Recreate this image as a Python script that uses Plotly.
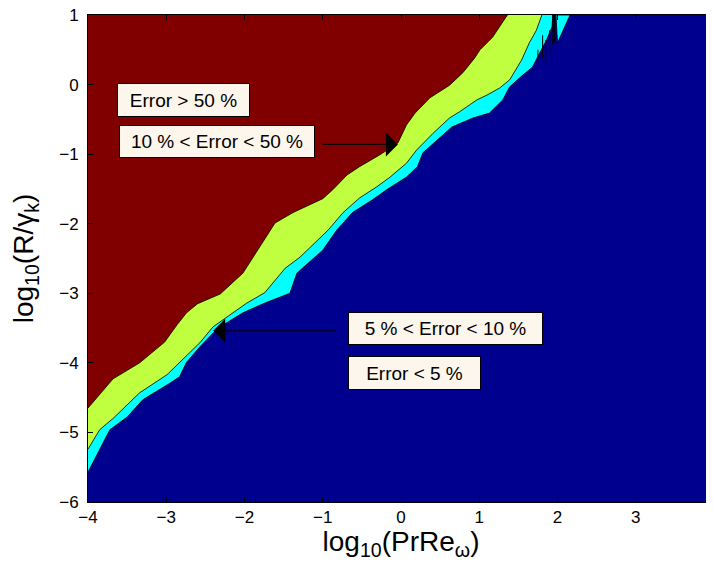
import plotly.graph_objects as go

# ---------------- data ----------------
x_range = [-4, 4]
y_range = [-6, 1]
x_ticks = [-4, -3, -2, -1, 0, 1, 2, 3, 4]
y_ticks = [-6, -5, -4, -3, -2, -1, 0, 1]

# boundary between "Error > 50 %" (dark red) and "10-50 %" (yellow-green)
red_green_x = [-4.00, -3.68, -3.34, -3.02, -2.86, -2.74, -2.60, -2.31, -2.02, -1.61,
               -1.38, -1.00, -0.87, -0.69, -0.53, -0.27, -0.04, 0.02, 0.07, 0.18,
               0.37, 0.62, 0.79, 0.94, 1.01, 1.17, 1.36]
red_green_y = [-4.65, -4.23, -4.00, -3.70, -3.45, -3.28, -3.15, -3.01, -2.71, -1.99,
               -1.84, -1.64, -1.51, -1.30, -1.18, -1.01, -0.84, -0.70, -0.58, -0.41,
               -0.19, -0.01, 0.17, 0.38, 0.50, 0.68, 1.00]

# boundary between "10-50 %" (yellow-green) and "5-10 %" (cyan)
green_cyan_x = [-4.00, -3.85, -3.68, -3.34, -2.99, -2.83, -2.57, -2.40, -2.22, -1.97,
                -1.74, -1.48, -1.29, -0.93, -0.74, -0.53, -0.31, -0.14, 0.07, 0.20,
                0.41, 0.62, 0.75, 0.97, 1.10, 1.26, 1.39, 1.45, 1.54, 1.64, 1.73, 1.80]
green_cyan_y = [-5.24, -4.96, -4.80, -4.43, -4.17, -3.99, -3.71, -3.48, -3.34, -3.14,
                -2.99, -2.64, -2.48, -2.09, -1.84, -1.63, -1.47, -1.33, -1.13, -0.94,
                -0.70, -0.48, -0.39, -0.22, -0.15, -0.05, 0.07, 0.18, 0.35, 0.60, 0.78, 1.00]

# boundary between "5-10 %" (cyan) and "Error < 5 %" (dark blue)
cyan_blue_x = [-4.00, -3.72, -3.50, -3.30, -2.95, -2.83, -2.74, -2.57, -2.40, -2.31,
               -2.02, -1.74, -1.42, -1.33, -1.00, -0.82, -0.62, -0.37, -0.18, 0.07,
               0.21, 0.28, 0.46, 0.65, 0.92, 1.13, 1.30, 1.39, 1.56, 1.68, 1.77, 1.86,
               1.93, 1.94]
cyan_blue_y = [-5.57, -4.96, -4.78, -4.53, -4.29, -4.20, -3.99, -3.77, -3.57, -3.48,
               -3.28, -3.14, -3.00, -2.71, -2.38, -2.09, -1.84, -1.66, -1.51, -1.33,
               -1.18, -0.98, -0.80, -0.61, -0.48, -0.41, -0.22, -0.03, 0.14, 0.25, 0.45, 0.64,
               0.83, 1.00]

# small cyan wedge near the top edge
wedge_x = [1.98, 2.00, 2.16]
wedge_y = [1.00, 0.60, 1.00]

# short vertical contour artefacts near the top edge (x, y_start, y_end)
artefact_x = [1.75, 1.81, 1.85, 1.90, 1.94, 1.96]
artefact_y0 = [0.32, 0.38, 0.28, 0.43, 0.57, 0.60]
artefact_y1 = [0.50, 0.71, 0.64, 0.78, 1.00, 1.00]

labels = ["Error > 50 %", "10 % < Error < 50 %", "5 % < Error < 10 %", "Error < 5 %"]

# ---------------- styling ----------------
C_RED = "#800000"
C_GREEN = "#bfff40"
C_CYAN = "#00ffff"
C_BLUE = "#00008f"
FONT = "Liberation Sans, Arial, Helvetica, sans-serif"

fig = go.Figure()

corner_x, corner_y = x_range[0], y_range[1]


def region(bx, by, color):
    fig.add_trace(go.Scatter(x=bx + [corner_x, bx[0]], y=by + [corner_y, by[0]],
                             mode="lines", fill="toself", fillcolor=color,
                             line=dict(width=0, color=color), hoverinfo="skip",
                             showlegend=False))


region(cyan_blue_x, cyan_blue_y, C_CYAN)
region(green_cyan_x, green_cyan_y, C_GREEN)
region(red_green_x, red_green_y, C_RED)
fig.add_trace(go.Scatter(x=wedge_x + [wedge_x[0]], y=wedge_y + [wedge_y[0]], mode="lines",
                         fill="toself", fillcolor=C_CYAN, line=dict(width=0.8, color="black"),
                         hoverinfo="skip", showlegend=False))

for bx, by in [(red_green_x, red_green_y), (green_cyan_x, green_cyan_y),
               (cyan_blue_x, cyan_blue_y)]:
    fig.add_trace(go.Scatter(x=bx, y=by, mode="lines", line=dict(color="black", width=0.8),
                             hoverinfo="skip", showlegend=False))

ax_, ay_ = [], []
for xv, y0, y1 in zip(artefact_x, artefact_y0, artefact_y1):
    ax_ += [xv, xv, None]
    ay_ += [y0, y1, None]
fig.add_trace(go.Scatter(x=ax_, y=ay_, mode="lines", line=dict(color="black", width=1),
                         hoverinfo="skip", showlegend=False))

# ---------------- text boxes and arrows ----------------
box_specs = [  # (x centre, y centre, width px, height px)
    (-2.78, -0.22, 133, 34),
    (-2.35, -0.82, 196, 33),
    (0.57, -3.50, 195, 33),
    (0.17, -4.14, 133, 34),
]
for text, (bxc, byc, w, h) in zip(labels, box_specs):
    fig.add_annotation(x=bxc, y=byc, xref="x", yref="y", text=text, showarrow=False,
                       font=dict(family=FONT, size=19, color="black"),
                       bgcolor="#fdf6ec", bordercolor="black", borderwidth=1,
                       borderpad=0, width=w - 2, height=h - 2, align="center",
                       valign="middle", xanchor="center", yanchor="middle")

arrows = [  # (tip x, tip y, tail x, tail y)
    (-0.04, -0.86, -1.02, -0.86),
    (-2.40, -3.54, -0.81, -3.54),
]
for tx, ty, sx, sy in arrows:
    fig.add_annotation(x=tx, y=ty, ax=sx, ay=sy, xref="x", yref="y", axref="x", ayref="y",
                       text="", showarrow=True, arrowhead=1, arrowsize=4, arrowwidth=1,
                       arrowcolor="black", standoff=0, startstandoff=0)

# ---------------- axes ----------------
def fmt(v):
    return ("\u2212" + str(abs(v))) if v < 0 else str(v)


axis_common = dict(showline=True, linecolor="black", linewidth=1, mirror="ticks",
                   ticks="inside", ticklen=5, tickcolor="black", tickwidth=1,
                   showgrid=False, zeroline=False, automargin=False,
                   ticklabeloverflow="allow",
                   tickfont=dict(family=FONT, size=17, color="black"))

fig.update_xaxes(range=x_range, tickvals=x_ticks, ticktext=[fmt(v) for v in x_ticks],
                 title=dict(text="log<sub>10</sub>(PrRe<sub>ω</sub>)",
                            font=dict(family=FONT, size=28, color="black"), standoff=6),
                 **axis_common)
fig.update_yaxes(range=y_range, tickvals=y_ticks, ticktext=[fmt(v) for v in y_ticks],
                 ticklabelstandoff=5,
                 title=dict(text="log<sub>10</sub>(R/γ<sub>k</sub>)",
                            font=dict(family=FONT, size=28, color="black"), standoff=20),
                 **axis_common)

# the page body has an 8 px margin, so the figure is sized to sit inside the window
fig.update_layout(width=706, height=553, margin=dict(l=80, r=0, t=7, b=59),
                  paper_bgcolor="white", plot_bgcolor=C_BLUE, showlegend=False)

fig.write_html("out.html")
